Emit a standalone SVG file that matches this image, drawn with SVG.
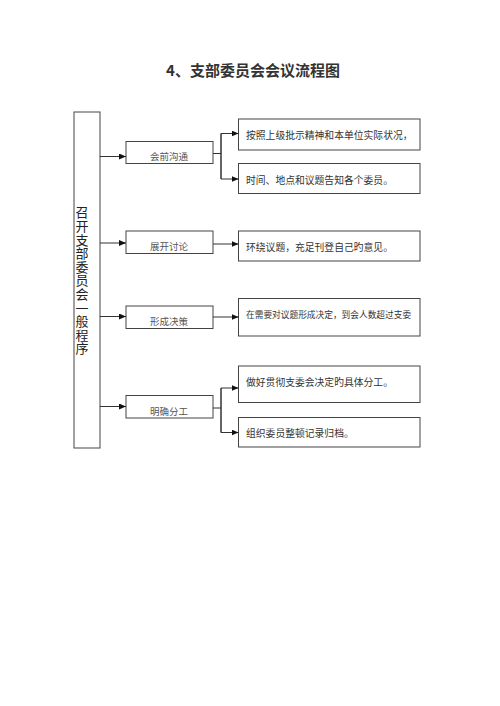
<svg xmlns="http://www.w3.org/2000/svg" width="500" height="706" viewBox="0 0 500 706">
<style>
.box{fill:#fff;stroke:#444;stroke-width:1}
.ln{fill:none;stroke:#333;stroke-width:1}
.t{font-family:"Noto Sans CJK SC","Liberation Sans",sans-serif;fill:#333}
.s{font-size:9.5px;fill:#555;text-anchor:middle}
.r{font-size:9.8px}
.v{writing-mode:vertical-rl;font-size:13px;letter-spacing:0.6px;fill:#222}
</style>
<defs>
<marker id="ah" markerWidth="8" markerHeight="6" refX="7" refY="3" orient="auto" markerUnits="userSpaceOnUse">
<path d="M0,0 L7,3 L0,6 Z" fill="#111"/>
</marker>
</defs>
<rect width="500" height="706" fill="#fff"/>
<text class="t" x="253" y="76" font-size="15" font-weight="bold" text-anchor="middle" fill="#111">4、支部委员会会议流程图</text>

<g id="main">
<rect class="box" x="74" y="112" width="26" height="336"/>
<text class="t v" x="82" y="206">召开支部委员会一般程序</text>
</g>

<g id="step1">
<rect class="box" x="126" y="141.5" width="87" height="22"/>
<text class="t s" x="169" y="160">会前沟通</text>
</g>
<g id="step2">
<rect class="box" x="126" y="231" width="87" height="22.5"/>
<text class="t s" x="169" y="250">展开讨论</text>
</g>
<g id="step3">
<rect class="box" x="126" y="306" width="87" height="22.5"/>
<text class="t s" x="169" y="325">形成决策</text>
</g>
<g id="step4">
<rect class="box" x="126" y="395.5" width="87" height="22.5"/>
<text class="t s" x="169" y="414.5">明确分工</text>
</g>

<g id="d1a">
<rect class="box" x="238.5" y="119" width="181.5" height="31"/>
<text class="t r" x="246" y="138.5">按照上级批示精神和本单位实际状况，</text>
</g>
<g id="d1b">
<rect class="box" x="238.5" y="163.5" width="181.5" height="30"/>
<text class="t r" x="246" y="184">时间、地点和议题告知各个委员。</text>
</g>
<g id="d2">
<rect class="box" x="238.5" y="231" width="181.5" height="30"/>
<text class="t r" x="246" y="251">环绕议题，充足刊登自己旳意见。</text>
</g>
<g id="d3">
<rect class="box" x="238.5" y="298.5" width="181.5" height="37.5"/>
<text class="t" font-size="8.7" x="246" y="318">在需要对议题形成决定，到会人数超过支委</text>
</g>
<g id="d4a">
<rect class="box" x="238.5" y="366" width="181.5" height="36.5"/>
<text class="t r" x="246" y="386">做好贯彻支委会决定旳具体分工。</text>
</g>
<g id="d4b">
<rect class="box" x="238.5" y="417.5" width="181.5" height="29.5"/>
<text class="t r" x="246" y="436.5">组织委员整顿记录归档。</text>
</g>

<g id="connectors">
<path class="ln" d="M100,156.5 H126" marker-end="url(#ah)"/>
<path class="ln" d="M100,243 H126" marker-end="url(#ah)"/>
<path class="ln" d="M100,316.5 H126" marker-end="url(#ah)"/>
<path class="ln" d="M100,406.5 H126" marker-end="url(#ah)"/>
<path class="ln" d="M213,153.5 H221"/>
<path class="ln" d="M221,179 V133.5 H238.5" marker-end="url(#ah)"/>
<path class="ln" d="M221,133.5 V179 H238.5" marker-end="url(#ah)"/>
<path class="ln" d="M213,244 H238.5" marker-end="url(#ah)"/>
<path class="ln" d="M213,317 H238.5" marker-end="url(#ah)"/>
<path class="ln" d="M213,408 H221"/>
<path class="ln" d="M221,432.5 V388 H238.5" marker-end="url(#ah)"/>
<path class="ln" d="M221,388 V432.5 H238.5" marker-end="url(#ah)"/>
</g>
</svg>
